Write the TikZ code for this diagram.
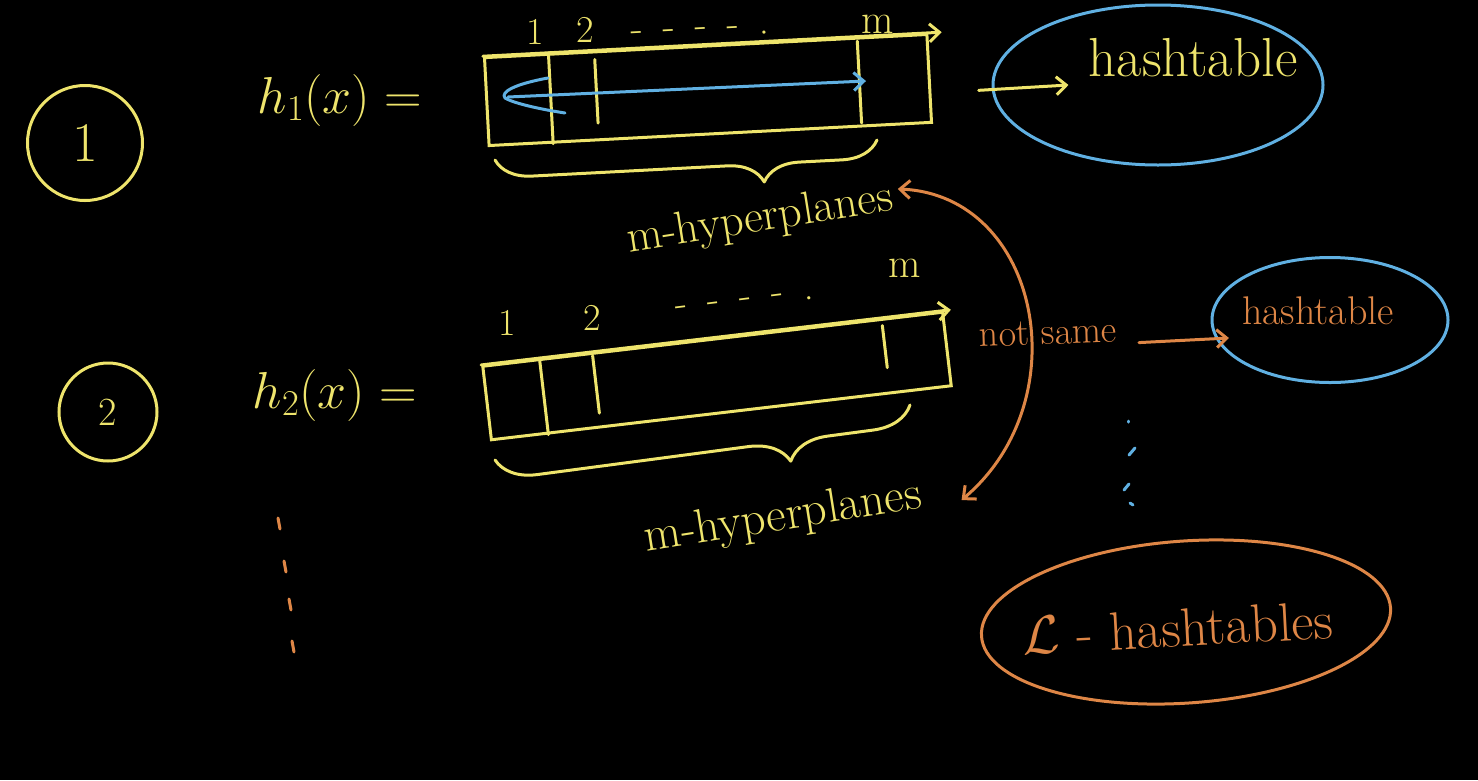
\RequirePackage{fix-cm}
\documentclass[tikz,border=0pt]{standalone}
\usepackage{amsmath}
\usetikzlibrary{arrows.meta,positioning,calc,shapes.geometric,decorations.pathreplacing}
\definecolor{chalkyellow}{RGB}{238,228,108}
\definecolor{chalkblue}{RGB}{96,176,226}
\definecolor{chalkorange}{RGB}{222,134,70}

\begin{document}
\begin{tikzpicture}[
    x=1pt, y=-1pt,
    every node/.style={inner sep=0pt},
    hand/.style={font=\fontsize{#1}{#1}\selectfont},
    stroke/.style={line width=3pt, line cap=round, line join=round},
    ring/.style={draw, circle, line width=3pt},
    pond/.style={draw, ellipse, line width=3pt},
    cellrow/.style={draw=chalkyellow, line width=3pt},
    tip/.style={-{Straight Barb[length=10pt, width=18pt]}},
    bothtips/.style={{Straight Barb[length=10pt, width=18pt]}-{Straight Barb[length=10pt, width=18pt]}},
    hbrace/.style={stroke, chalkyellow, decorate, decoration={brace, amplitude=#1, aspect=0.3}}
]
\fill[black] (0,0) rectangle (1478,780);
\useasboundingbox (0,0) rectangle (1478,780);

% first hash function
\node[ring, draw=chalkyellow, minimum size=115pt, text=chalkyellow, hand=56] (one) at (85,143) {1};
\node[hand=52, text=chalkyellow] (h1) at (340,100) {$h_1(x)=$};
\node[cellrow, minimum width=443pt, minimum height=88pt, rotate=3] (box1) at (708,90) {};
\foreach \f/\a/\b in {0.147/0/1, 0.25/0.1/0.8, 0.84/0.05/0.95} {
  \coordinate (top) at ($(box1.north west)!\f!(box1.north east)$);
  \coordinate (bot) at ($(box1.south west)!\f!(box1.south east)$);
  \draw[stroke, chalkyellow] ($(top)!\a!(bot)$) -- ($(top)!\b!(bot)$);
}
\draw[stroke, chalkyellow, tip] (box1.north west) -- ($(box1.north west)!1.03!(box1.north east)$);
\node[hand=38, text=chalkyellow] (b1one) at (535,32) {1};
\node[hand=38, text=chalkyellow] (b1two) at (585,30) {2};
\node[hand=40, text=chalkyellow, rotate=3] (b1dots) at (700,33) {-\enspace-\enspace-\enspace-\enspace.};
\node[hand=42, text=chalkyellow] (b1m) at (878,24) {m};
% blue sweep from the first cell to the last
\draw[stroke, chalkblue] (548,78) .. controls (515,84) and (500,92) .. (505,98)
  .. controls (515,104) and (545,110) .. (565,113);
\draw[stroke, chalkblue, tip] (508,97) -- (866,81);
\draw[hbrace=36pt] (877,140) -- (495,160);
\node[hand=46, text=chalkyellow, rotate=9] (hp1) at (760,220) {m-hyperplanes};

% hashtable for the first function
\node[pond, draw=chalkblue, minimum width=330pt, minimum height=160pt] (ht1) at (1158,85) {};
\node[hand=55, text=chalkyellow] (ht1text) at (1193,58) {hashtable};
\draw[stroke, chalkyellow, tip] ([xshift=48pt,yshift=-12pt]box1.east) -- ([xshift=-20pt,yshift=-27pt]ht1text.west);

% second hash function
\node[ring, draw=chalkyellow, minimum size=98pt, text=chalkyellow, hand=40] (two) at (108,412) {2};
\node[hand=52, text=chalkyellow] (h2) at (335,395) {$h_2(x)=$};
\node[cellrow, minimum width=463pt, minimum height=74pt, rotate=6.7] (box2) at (717,376) {};
\foreach \f/\a/\b in {0.126/0/1, 0.24/0.05/0.8, 0.865/0.1/0.65} {
  \coordinate (top) at ($(box2.north west)!\f!(box2.north east)$);
  \coordinate (bot) at ($(box2.south west)!\f!(box2.south east)$);
  \draw[stroke, chalkyellow] ($(top)!\a!(bot)$) -- ($(top)!\b!(bot)$);
}
\draw[stroke, chalkyellow, tip] (box2.north west) -- ($(box2.north west)!1.015!(box2.north east)$);
\node[hand=38, text=chalkyellow] (b2one) at (507,323) {1};
\node[hand=38, text=chalkyellow] (b2two) at (592,318) {2};
\node[hand=40, text=chalkyellow, rotate=7] (b2dots) at (745,303) {-\enspace-\enspace-\enspace-\enspace.};
\node[hand=42, text=chalkyellow] (b2m) at (905,268) {m};
\draw[hbrace=40pt] (910,405) -- (495,460);
\node[hand=48, text=chalkyellow, rotate=9] (hp2) at (783,518) {m-hyperplanes};

% the two functions differ
\draw[stroke, chalkorange, bothtips] ([xshift=5pt,yshift=10pt]hp1.east) .. controls (1040,195) and (1080,400) .. ([xshift=40pt,yshift=-4pt]hp2.east);
\node[hand=38, text=chalkorange, rotate=2] (notsame) at (1048,333) {not same};
\node[pond, draw=chalkblue, minimum width=236pt, minimum height=125pt] (ht2) at (1330,320) {};
\node[hand=40, text=chalkorange] (ht2text) at (1318,311) {hashtable};
\draw[stroke, chalkorange, tip] ([xshift=22pt,yshift=-12pt]notsame.east) -- ([xshift=-13pt,yshift=-27pt]ht2text.west);

% more functions and tables
\foreach \x/\y in {278/518, 284/561, 289/599, 292/641}
  \draw[stroke, chalkorange] (\x,\y) -- ++(2,11);
\foreach \x/\y/\dx/\dy in {1128/421/0/1, 1135/448/-6/7, 1129/484/-5/6, 1130/503/3/2}
  \draw[stroke, chalkblue] (\x,\y) -- ++(\dx,\dy);
\node[pond, draw=chalkorange, minimum width=410pt, minimum height=162pt, rotate=4] (lall) at (1186,622) {};
\node[hand=54, text=chalkorange, rotate=3] (lalltext) at (1178,628) {$\mathcal{L}$ - hashtables};
\end{tikzpicture}
\end{document}
